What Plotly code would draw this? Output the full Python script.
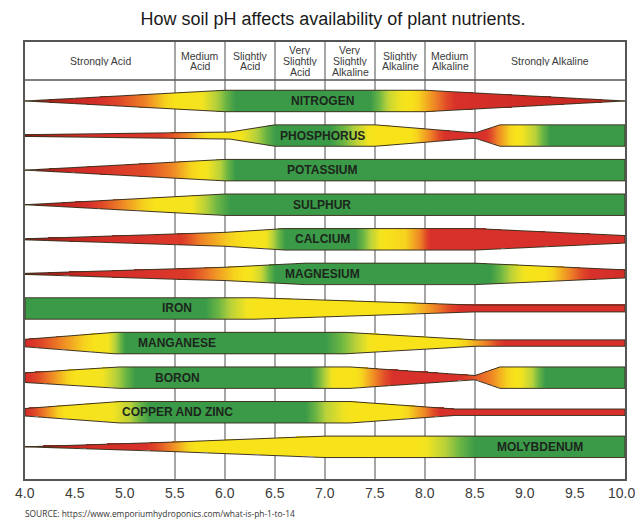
import numpy as np
import plotly.graph_objects as go

TITLE = "How soil pH affects availability of plant nutrients."
SOURCE = "SOURCE: https://www.emporiumhydroponics.com/what-is-ph-1-to-14"

PH_TICKS = [4.0, 4.5, 5.0, 5.5, 6.0, 6.5, 7.0, 7.5, 8.0, 8.5, 9.0, 9.5, 10.0]
PH_TICK_LABELS = ["4.0", "4.5", "5.0", "5.5", "6.0", "6.5", "7.0", "7.5", "8.0", "8.5", "9.0", "9.5", "10.0"]

ZONE_EDGES = [4.0, 5.5, 6.0, 6.5, 7.0, 7.5, 8.0, 8.5, 10.0]
ZONE_LABELS = ["Strongly Acid", "Medium<br>Acid", "Slightly<br>Acid", "Very<br>Slightly<br>Acid",
               "Very<br>Slightly<br>Alkaline", "Slightly<br>Alkaline", "Medium<br>Alkaline", "Strongly Alkaline"]

NUTRIENTS = ["NITROGEN", "PHOSPHORUS", "POTASSIUM", "SULPHUR", "CALCIUM", "MAGNESIUM",
             "IRON", "MANGANESE", "BORON", "COPPER AND ZINC", "MOLYBDENUM"]
LABEL_PH = [6.97, 6.97, 6.97, 6.97, 6.97, 6.97, 5.52, 5.52, 5.52, 5.52, 9.15]

# relative band width (1 = full availability) at pH knots
NITROGEN_WIDTH = [(4.0, 0.0), (6.0, 1.0), (8.0, 1.0), (10.0, 0.0)]
PHOSPHORUS_WIDTH = [(4.0, 0.08), (5.5, 0.25), (6.05, 0.33), (6.5, 1.0), (7.5, 1.0), (8.5, 0.25), (8.75, 1.0), (10.0, 1.0)]
POTASSIUM_WIDTH = [(4.0, 0.0), (6.0, 1.0), (10.0, 1.0)]
SULPHUR_WIDTH = [(4.0, 0.0), (6.0, 1.0), (10.0, 1.0)]
CALCIUM_WIDTH = [(4.0, 0.05), (5.5, 0.5), (6.0, 0.65), (6.6, 1.0), (8.5, 1.0), (10.0, 0.35)]
MAGNESIUM_WIDTH = [(4.0, 0.05), (5.5, 0.5), (6.0, 0.62), (6.8, 1.0), (8.5, 1.0), (10.0, 0.38)]
IRON_WIDTH = [(4.0, 1.0), (6.3, 1.0), (8.5, 0.32), (10.0, 0.32)]
MANGANESE_WIDTH = [(4.0, 0.35), (4.9, 1.0), (7.2, 1.0), (8.5, 0.3), (10.0, 0.3)]
BORON_WIDTH = [(4.0, 0.45), (4.95, 1.0), (7.25, 1.0), (8.5, 0.2), (8.75, 1.0), (10.0, 1.0)]
COPPER_ZINC_WIDTH = [(4.0, 0.35), (4.95, 1.0), (7.25, 1.0), (8.3, 0.3), (10.0, 0.3)]
MOLYBDENUM_WIDTH = [(4.0, 0.0), (5.5, 0.45), (7.0, 1.0), (10.0, 1.0)]

# availability colour level (0 = red, 0.55 = yellow, 1 = green) at pH knots
NITROGEN_LEVEL = [(4.0, 0.0), (4.7, 0.2), (5.2, 0.4), (5.5, 0.55), (5.75, 0.6), (5.95, 0.8), (6.1, 1.0),
                  (7.45, 1.0), (7.65, 0.7), (7.85, 0.55), (8.1, 0.4), (8.3, 0.22), (10.0, 0.12)]
PHOSPHORUS_LEVEL = [(4.0, 0.0), (4.6, 0.2), (5.35, 0.25), (5.6, 0.4), (5.85, 0.55), (6.15, 0.6), (6.35, 0.8),
                    (6.5, 1.0), (7.05, 1.0), (7.3, 0.75), (7.5, 0.55), (7.85, 0.55), (8.05, 0.4), (8.2, 0.22),
                    (8.6, 0.22), (8.72, 0.4), (8.9, 0.55), (9.1, 0.75), (9.25, 1.0), (10.0, 1.0)]
POTASSIUM_LEVEL = [(4.0, 0.0), (4.6, 0.2), (5.2, 0.3), (5.5, 0.42), (5.75, 0.55), (5.95, 0.75), (6.1, 1.0), (10.0, 1.0)]
SULPHUR_LEVEL = [(4.0, 0.0), (4.6, 0.2), (4.95, 0.4), (5.3, 0.55), (5.65, 0.6), (5.85, 0.8), (6.05, 1.0), (10.0, 1.0)]
CALCIUM_LEVEL = [(4.0, 0.0), (4.8, 0.2), (5.55, 0.25), (5.75, 0.4), (6.2, 0.55), (6.4, 0.6), (6.6, 1.0),
                 (7.3, 1.0), (7.45, 0.75), (7.6, 0.55), (7.8, 0.5), (7.95, 0.4), (8.05, 0.22), (10.0, 0.22)]
MAGNESIUM_LEVEL = [(4.0, 0.0), (4.8, 0.2), (5.6, 0.25), (5.85, 0.4), (6.2, 0.55), (6.35, 0.7), (6.5, 1.0),
                   (8.65, 1.0), (8.85, 0.75), (9.05, 0.55), (9.2, 0.55), (9.45, 0.4), (9.65, 0.22), (10.0, 0.2)]
IRON_LEVEL = [(4.0, 1.0), (5.8, 1.0), (6.05, 0.75), (6.3, 0.55), (7.75, 0.55), (8.1, 0.4), (8.35, 0.22), (10.0, 0.22)]
MANGANESE_LEVEL = [(4.0, 0.2), (4.35, 0.4), (4.7, 0.55), (4.82, 0.6), (4.92, 0.8), (5.0, 1.0), (7.0, 1.0),
                   (7.3, 0.75), (7.5, 0.55), (8.3, 0.55), (8.6, 0.4), (8.8, 0.22), (10.0, 0.22)]
BORON_LEVEL = [(4.0, 0.2), (4.25, 0.4), (4.5, 0.55), (4.75, 0.6), (4.95, 0.8), (5.1, 1.0), (6.85, 1.0),
               (7.0, 0.75), (7.1, 0.55), (7.3, 0.55), (7.5, 0.4), (7.68, 0.22), (8.35, 0.22), (8.45, 0.3),
               (8.65, 0.4), (8.9, 0.55), (9.07, 0.75), (9.2, 1.0), (10.0, 1.0)]
COPPER_ZINC_LEVEL = [(4.0, 0.2), (4.2, 0.4), (4.4, 0.55), (4.85, 0.6), (5.05, 0.75), (5.25, 1.0), (6.8, 1.0),
                     (7.0, 0.75), (7.3, 0.55), (7.75, 0.55), (8.0, 0.4), (8.15, 0.22), (10.0, 0.22)]
MOLYBDENUM_LEVEL = [(4.0, 0.0), (4.7, 0.2), (5.2, 0.22), (5.45, 0.4), (5.7, 0.55), (7.9, 0.55), (8.2, 0.75),
                    (8.5, 1.0), (10.0, 1.0)]

WIDTHS = [NITROGEN_WIDTH, PHOSPHORUS_WIDTH, POTASSIUM_WIDTH, SULPHUR_WIDTH, CALCIUM_WIDTH, MAGNESIUM_WIDTH,
          IRON_WIDTH, MANGANESE_WIDTH, BORON_WIDTH, COPPER_ZINC_WIDTH, MOLYBDENUM_WIDTH]
LEVELS = [NITROGEN_LEVEL, PHOSPHORUS_LEVEL, POTASSIUM_LEVEL, SULPHUR_LEVEL, CALCIUM_LEVEL, MAGNESIUM_LEVEL,
          IRON_LEVEL, MANGANESE_LEVEL, BORON_LEVEL, COPPER_ZINC_LEVEL, MOLYBDENUM_LEVEL]

COLORSCALE = [[0.0, "#8e1b17"], [0.12, "#c3251f"], [0.22, "#d8302a"], [0.3, "#e04a28"], [0.4, "#ee8226"],
              [0.5, "#f6d21e"], [0.55, "#f8e31b"], [0.62, "#f2e320"], [0.75, "#b8d13a"], [0.87, "#6bb544"],
              [1.0, "#3b9a48"]]
OUTLINE = "#3f3522"
FRAME = "#555555"
HALF = 0.31
Y_TOP, Y_BOTTOM = -1.705, 10.93
HEADER_BOTTOM = -0.606

xs = np.round(np.arange(4.0, 10.0 + 1e-9, 0.01), 3)
ys = np.round(np.arange(-0.46, 10.46 + 1e-9, 0.02), 3)
Z = np.full((len(ys), len(xs)), np.nan, dtype=np.float32)
for k in range(len(NUTRIENTS)):
    wp, wv = zip(*WIDTHS[k])
    lp, lv = zip(*LEVELS[k])
    half = np.interp(xs, wp, wv) * HALF
    lev = np.interp(xs, lp, lv)
    for r in np.where(np.abs(ys - k) <= HALF + 0.03)[0]:
        inside = np.abs(ys[r] - k) <= half + 0.004
        Z[r, inside] = lev[inside]

fig = go.Figure()
fig.add_trace(go.Heatmap(x=xs, y=ys, z=Z, colorscale=COLORSCALE, zmin=0, zmax=1, showscale=False,
                         hoverinfo="skip", zsmooth=False))

for k in range(len(NUTRIENTS)):
    wp, wv = zip(*WIDTHS[k])
    top = [k - w * HALF for w in wv]
    bot = [k + w * HALF for w in wv]
    px = list(wp) + list(wp[::-1]) + [wp[0]]
    py = top + bot[::-1] + [top[0]]
    fig.add_trace(go.Scatter(x=px, y=py, mode="lines", line=dict(color=OUTLINE, width=1),
                             hoverinfo="skip", showlegend=False))
    fig.add_annotation(x=LABEL_PH[k], y=k, text="<b>%s</b>" % NUTRIENTS[k], showarrow=False,
                       font=dict(family="Liberation Sans, Arial", size=12, color="#1c261c"))

shapes = []
for e in ZONE_EDGES[1:-1]:
    shapes.append(dict(type="line", xref="x", yref="y", x0=e, x1=e, y0=Y_TOP, y1=Y_BOTTOM,
                       line=dict(color="#6b6b6b", width=1.2), layer="below"))
shapes.append(dict(type="line", xref="x", yref="y", x0=4.0, x1=10.0, y0=HEADER_BOTTOM, y1=HEADER_BOTTOM,
                   line=dict(color=FRAME, width=1.3), layer="below"))

header_y = (Y_TOP + HEADER_BOTTOM) / 2
PITCH = 10.6
for i, lab in enumerate(ZONE_LABELS):
    xc = (ZONE_EDGES[i] + ZONE_EDGES[i + 1]) / 2
    lines = lab.split("<br>")
    n = len(lines)
    for j, ln in enumerate(lines):
        fig.add_annotation(x=xc, y=header_y, text=ln, showarrow=False, yshift=((n - 1) / 2 - j) * PITCH,
                           height=10, borderpad=0,
                           font=dict(family="Liberation Sans, Arial", size=10.5, color="#3a3a3a"))

# pH tick labels (drawn as annotations so the last one is not hidden at the edge)
for v, t in zip(PH_TICKS, PH_TICK_LABELS):
    fig.add_annotation(x=v, xref="x", yref="paper", y=-14 / 437, yanchor="middle", text=t,
                       showarrow=False, xshift=(-4 if v == PH_TICKS[-1] else 0),
                       font=dict(family="Liberation Sans, Arial", size=14, color="#3c3c3c"))

fig.add_annotation(xref="paper", yref="paper", x=-0.004, y=-0.08, xanchor="left", yanchor="middle",
                   text=SOURCE, showarrow=False,
                   font=dict(family="Open Sans, Arial", size=8.4, color="#333333"))

fig.update_layout(
    width=637, height=519, autosize=False,
    margin=dict(l=25, r=12, t=42, b=40, autoexpand=False),
    paper_bgcolor="white", plot_bgcolor="white",
    showlegend=False,
    shapes=shapes,
    title=dict(text=TITLE, x=333 / 637, xanchor="center", y=1 - 19 / 519, yanchor="middle",
               font=dict(family="Liberation Sans, Arial", size=18, color="#1a1a1a")),
    xaxis=dict(range=[4.0, 10.0], tickmode="array", tickvals=PH_TICKS, showticklabels=False,
               showgrid=False, zeroline=False, showline=True, mirror=True, linecolor=FRAME, linewidth=1.5,
               ticks="", automargin=False),
    yaxis=dict(range=[Y_BOTTOM, Y_TOP], showgrid=False, zeroline=False, showticklabels=False,
               showline=True, mirror=True, linecolor=FRAME, linewidth=1.5, ticks="", automargin=False),
)

fig.write_html("out.html",
               config={"displayModeBar": False, "responsive": False},
               post_script="document.body.style.margin='0';document.body.style.overflow='hidden';")
